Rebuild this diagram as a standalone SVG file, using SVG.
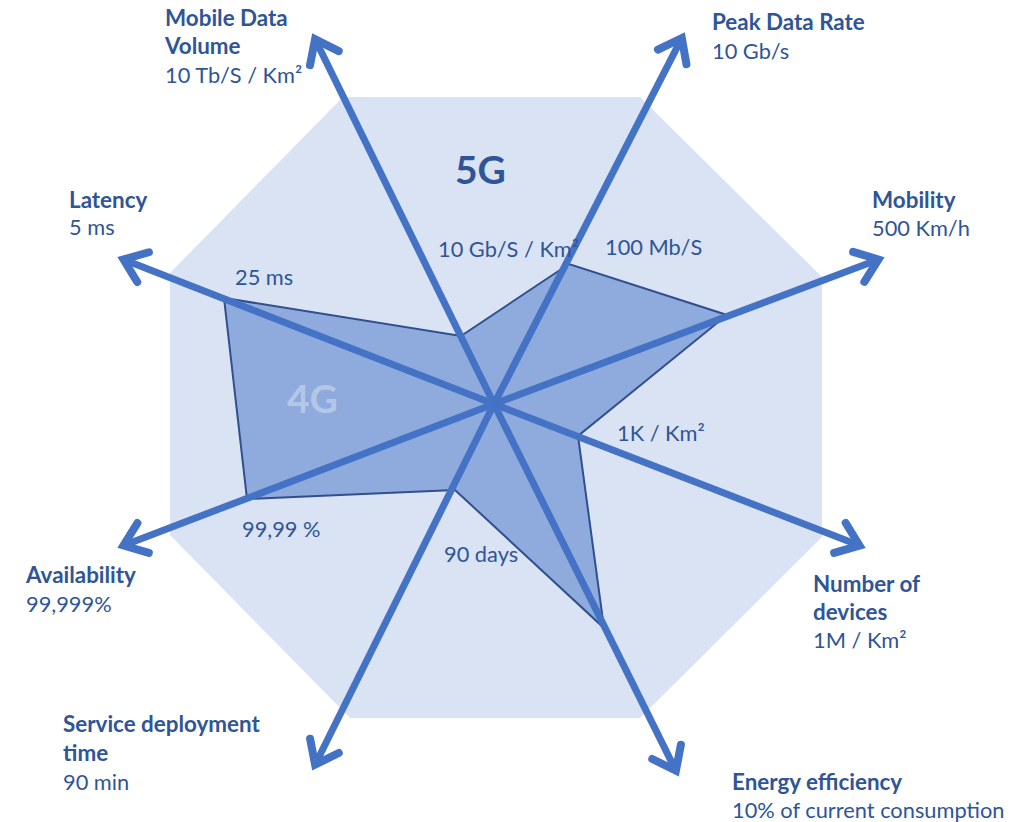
<svg xmlns="http://www.w3.org/2000/svg" width="1030" height="822" viewBox="0 0 1030 822">
<style>
.lbl{font-family:Lato,"Open Sans","Liberation Sans",sans-serif;font-weight:bold;font-size:22.4px;fill:#2F5597}
.val{font-family:Lato,"Open Sans","Liberation Sans",sans-serif;font-size:21.8px;fill:#2F5597}
.big{font-family:Lato,"Open Sans","Liberation Sans",sans-serif;font-weight:bold;font-size:39px}
.axis{stroke:#4472C4;stroke-width:7;fill:none;marker-end:url(#head)}
</style>
<defs>
<marker id="head" markerUnits="userSpaceOnUse" orient="auto" refX="0" refY="0" markerWidth="60" markerHeight="60" viewBox="-40 -30 60 60" overflow="visible">
<path d="M-21,-16 L0,0 L-21,16" fill="none" stroke="#4472C4" stroke-width="8" stroke-linecap="round" stroke-linejoin="miter"/>
</marker>
</defs>
<rect width="1030" height="822" fill="#ffffff"/>
<g id="octagon-5g">
<polygon points="343,97 640,97 822,277 822,537 640,718 350,718 170,535 170,273" fill="#DAE3F3"/>
<text class="big" x="455" y="184" fill="#2F5597">5G</text>
</g>
<g id="polygon-4g">
<polygon points="461,336 569,264 727,315 578,436 604,628 455,490 247,499 224,298" fill="#8FAADC" stroke="#2F4F8F" stroke-width="2" stroke-linejoin="miter"/>
<text class="big" x="287" y="413" fill="#B4C7E7">4G</text>
</g>
<g id="connectors">
<line class="axis" x1="494" y1="404" x2="315.1" y2="39.3"/>
<line class="axis" x1="494" y1="404" x2="681.8" y2="38.2"/>
<line class="axis" x1="494" y1="404" x2="878.4" y2="259.5"/>
<line class="axis" x1="494" y1="404" x2="859.5" y2="545.5"/>
<line class="axis" x1="494" y1="404" x2="675.9" y2="770.7"/>
<line class="axis" x1="494" y1="404" x2="315.1" y2="764.7"/>
<line class="axis" x1="494" y1="404" x2="123.5" y2="545.5"/>
<line class="axis" x1="494" y1="404" x2="123.5" y2="259.5"/>
</g>
<g id="node-mobile-data-volume">
<text class="lbl" x="165" y="26">Mobile Data</text>
<text class="lbl" x="165" y="54">Volume</text>
<text class="val" x="165" y="83">10 Tb/S / Km²</text>
<text class="val" x="438" y="257">10 Gb/S / Km²</text>
</g>
<g id="node-peak-data-rate">
<text class="lbl" x="712" y="30">Peak Data Rate</text>
<text class="val" x="712" y="59">10 Gb/s</text>
<text class="val" x="605" y="255">100 Mb/S</text>
</g>
<g id="node-mobility">
<text class="lbl" x="872" y="208">Mobility</text>
<text class="val" x="872" y="236">500 Km/h</text>
</g>
<g id="node-number-of-devices">
<text class="lbl" x="813" y="592">Number of</text>
<text class="lbl" x="813" y="620">devices</text>
<text class="val" x="813" y="648">1M / Km²</text>
<text class="val" x="617" y="441">1K / Km²</text>
</g>
<g id="node-energy-efficiency">
<text class="lbl" x="732" y="790">Energy efficiency</text>
<text class="val" x="732" y="818">10% of current consumption</text>
</g>
<g id="node-service-deployment">
<text class="lbl" x="63" y="732">Service deployment</text>
<text class="lbl" x="63" y="761">time</text>
<text class="val" x="63" y="790">90 min</text>
<text class="val" x="444" y="562">90 days</text>
</g>
<g id="node-availability">
<text class="lbl" x="26" y="583">Availability</text>
<text class="val" x="26" y="612">99,999%</text>
<text class="val" x="242" y="537">99,99 %</text>
</g>
<g id="node-latency">
<text class="lbl" x="69" y="208">Latency</text>
<text class="val" x="69" y="235">5 ms</text>
<text class="val" x="235" y="285">25 ms</text>
</g>
</svg>
